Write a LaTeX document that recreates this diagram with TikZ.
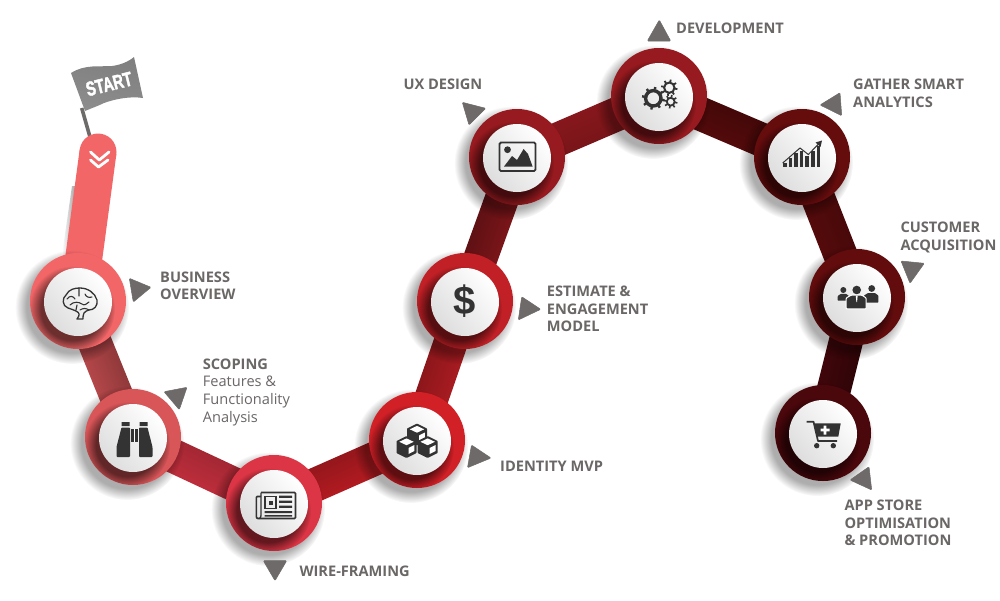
\documentclass[tikz,border=0pt]{standalone}
\usepackage{fontspec}
\usepackage{graphicx}
\setmainfont{Open Sans}
\newfontfamily\lib{Liberation Sans}
\newfontfamily\libfat[FakeBold=2.5]{Liberation Sans Bold}
\usetikzlibrary{calc,fadings}
\pgfdeclarelayer{links}
\pgfsetlayers{links,main}
\pgfdeclareradialshading{softoutS}{\pgfpointorigin}{color(0bp)=(pgftransparent!68);color(20bp)=(pgftransparent!68);color(25bp)=(pgftransparent!100);color(50bp)=(pgftransparent!100)}
\pgfdeclarefading{softout}{\pgfuseshading{softoutS}}
\pgfdeclareradialshading{softinS}{\pgfpointorigin}{color(0bp)=(pgftransparent!45);color(18bp)=(pgftransparent!45);color(25bp)=(pgftransparent!100);color(50bp)=(pgftransparent!100)}
\pgfdeclarefading{softin}{\pgfuseshading{softinS}}
\definecolor{ink}{HTML}{333333}
\definecolor{lab}{HTML}{6B6766}
\definecolor{tri}{HTML}{6D6A69}
\definecolor{cBrain}{HTML}{F26668}
\definecolor{cBino}{HTML}{D85558}
\definecolor{cNews}{HTML}{DC3545}
\definecolor{cCube}{HTML}{D22027}
\definecolor{cDoll}{HTML}{C02026}
\definecolor{cImag}{HTML}{961A1F}
\definecolor{cGear}{HTML}{961A1F}
\definecolor{cChrt}{HTML}{650C0D}
\definecolor{cPepl}{HTML}{620C0D}
\definecolor{cCart}{HTML}{4A070C}
\tikzset{
 x=1pt,y=-1pt,
 ringnode/.style={circle,minimum size=96pt,inner sep=0pt,outer sep=0pt},
 discnode/.style={circle,minimum size=68pt,inner sep=0pt,outer sep=0pt,left color=white,right color=black!13,shading angle=-50},
 boldlab/.style={anchor=base west,inner sep=0pt,align=left,text=lab,font=\fontsize{14.6}{17.5}\selectfont\bfseries},
 thinlab/.style={anchor=base west,inner sep=0pt,align=left,text=lab,font=\fontsize{14.6}{17.7}\selectfont},
 pointer/.style={fill=tri,draw=tri,line width=.5pt,rounded corners=1pt},
 inkline/.style={draw=ink,line width=1.3pt,line join=round,line cap=round},
}
\newcommand\hub[4]{%
 \fill[black,path fading=softout] (#2-6,#3+6) circle (57);
 \node[ringnode,fill=#4] (#1) at (#2,#3) {};
 \begin{scope}
 \clip (#2,#3) circle (48);
 \fill[black,path fading=softin] (#2-6,#3+8) circle (43);
 \end{scope}
 \node[discnode] (#1d) at (#2,#3+1) {};
}
\newcommand\link[5]{%
 \path[left color=#4,right color=#5,shading angle=#3]
  ($(#1)!17pt!90:(#2)$) -- ($(#2)!17pt!-90:(#1)$) -- ($(#2)!17pt!90:(#1)$) -- ($(#1)!17pt!-90:(#2)$) -- cycle;
}
\newcommand\gearicon[5]{%
 \begin{scope}[shift={(#1,#2)}]
 \draw[ink,line width=#3-#4] (0,0) circle ({(#3+#4)/2});
 \foreach \a in {0,45,...,315} \draw[ink,line width=#5] (\a+10:#3-.5) -- (\a+10:#3+2);
 \end{scope}
}
\newcommand\cubeicon[2]{%
 \begin{scope}[shift={(#1,#2)}]
 \fill[ink,rounded corners=.6pt] (0,-11) -- (10,-6) -- (10,6) -- (0,11) -- (-10,6) -- (-10,-6) -- cycle;
 \fill[white] (0,-8.6) -- (7.2,-5.2) -- (0,-1.8) -- (-7.2,-5.2) -- cycle;
 \fill[white] (2,1) -- (7.8,-2) -- (7.8,4) -- (2,7) -- cycle;
 \end{scope}
}
\begin{document}
\begin{tikzpicture}
\useasboundingbox (0,0) rectangle (1000,600);

% hubs
\hub{brain}{78}{301}{cBrain}
\hub{bino}{133}{437}{cBino}
\hub{news}{274}{503}{cNews}
\hub{cube}{417}{440}{cCube}
\hub{doll}{465}{301}{cDoll}
\hub{imag}{517}{157}{cImag}
\hub{gear}{659}{96}{cGear}
\hub{chrt}{802}{157}{cChrt}
\hub{pepl}{857}{297}{cPepl}
\hub{cart}{823}{433}{cCart}

% connectors, below the hubs
\begin{pgfonlayer}{links}
 \fill[white] (0,0) rectangle (1000,600);
 \coordinate (startcap) at (98,152);
 \draw[tri,line width=3.6pt] (81.7,108) -- (90,137);
 \path[left color=white,right color=black!35] (72,186) -- (75,186) -- (72,255) -- (62,255) -- cycle;
 \fill[cBrain] (startcap) circle (18.5);
 \fill[cBrain] ($(startcap)!18.5pt!90:(brain)$) -- ($(brain)!18.5pt!-90:(startcap)$) -- ($(brain)!18.5pt!90:(startcap)$) -- ($(startcap)!18.5pt!-90:(brain)$) -- cycle;
 \link{brain}{bino}{-68}{black!50!cBino}{cBino}
 \link{bino}{news}{-25}{black!40!cNews}{cNews}
 \link{news}{cube}{24}{black!45!cCube}{cCube}
 \link{cube}{doll}{71}{black!45!cCube}{cDoll}
 \link{doll}{imag}{70}{black!55!cImag}{cImag}
 \link{imag}{gear}{23}{cImag}{black!30!cImag}
 \link{gear}{chrt}{-23}{black!50!cChrt}{cChrt}
 \link{chrt}{pepl}{-69}{black!40!cPepl}{cPepl}
 \link{pepl}{cart}{-104}{black!50!cCart}{cCart}
\end{pgfonlayer}

% flag
\path[top color=black!50,middle color=black!64,bottom color=black!45,shading angle=-12]
 (71,73) .. controls (85,64) and (100,67) .. (112,66) .. controls (120,65) and (128,62) .. (134,57)
 -- (143,98) .. controls (130,96) and (115,99) .. (104,103) .. controls (98,106) and (92,108) .. (85,111) -- cycle;
\node[rotate=14,text=white,inner sep=0pt,font=\libfat\fontsize{20}{20}\selectfont] (startlab) at (109,84) {\scalebox{.72}[1]{START}};
\draw[white,line width=2.8pt,line cap=round,line join=round] (90.5,152) -- (99.3,160) -- (109,152);
\draw[white,line width=2.8pt,line cap=round,line join=round] (90.5,160) -- (98.5,167) -- (108,160);

% pointers
\path[pointer] (129.3,278.3) -- (151,287.3) -- (133.3,302) -- cycle;
\path[pointer] (164,391.7) -- (187,387.3) -- (179.3,409.7) -- cycle;
\path[pointer] (263.3,560.7) -- (286.7,560.7) -- (275,580.7) -- cycle;
\path[pointer] (471.5,445) -- (491,458) -- (467.5,467.7) -- cycle;
\path[pointer] (521.7,296.7) -- (540.7,309.3) -- (518.3,320) -- cycle;
\path[pointer] (462.3,102.3) -- (485.7,108.3) -- (469,125) -- cycle;
\path[pointer] (647.3,41) -- (670.7,41) -- (659.3,20) -- cycle;
\path[pointer] (820,105) -- (840,92.7) -- (841.7,115.7) -- cycle;
\path[pointer] (901,261) -- (924.3,263.3) -- (910,283.3) -- cycle;
\path[pointer] (850,480) -- (869,466.7) -- (871.7,490) -- cycle;

% labels (base anchor = last line)
\node[boldlab] (t1) at (160,299.5) {BUSINESS\\OVERVIEW};
\node[boldlab] (t2) at (202.7,369.3) {SCOPING};
\node[thinlab] (t2b) at (202.7,422) {Features \&\\Functionality\\Analysis};
\node[boldlab] (t3) at (299.3,576.7) {WIRE-FRAMING};
\node[boldlab] (t4) at (500,471) {IDENTITY MVP};
\node[boldlab] (t5) at (546.7,331.7) {ESTIMATE \&\\ENGAGEMENT\\MODEL};
\node[boldlab] (t6) at (403.3,89.7) {UX DESIGN};
\node[boldlab] (t7) at (676,33.3) {DEVELOPMENT};
\node[boldlab] (t8) at (853,107) {GATHER SMART\\ANALYTICS};
\node[boldlab] (t9) at (900.3,250) {CUSTOMER\\ACQUISITION};
\node[boldlab] (t10) at (844.3,545.7) {APP STORE\\OPTIMISATION\\\& PROMOTION};

% brain icon
\begin{scope}[shift={(78,302)}]
 \draw[inkline] (-10,6) .. controls (-16,4) and (-16,-4) .. (-12,-7) .. controls (-9,-13) and (-3,-14) .. (2,-14)
  .. controls (10,-14) and (17,-9) .. (19,-2) .. controls (20,4) and (16,8) .. (11,8)
  .. controls (8,8) and (8,10) .. (6,11) .. controls (5,13) and (5,15) .. (5,17) -- (-1,17) .. controls (2,13) and (2,11) .. (-2,9)
  .. controls (-4,8) and (-7,7) .. (-10,6);
 \draw[inkline,line width=1.1pt] (1,-14) -- (1,-6) (-11,-3) .. controls (-8,-7) and (-5,-6) .. (-3,-3)
  (7,-8) .. controls (8,-5) and (11,-4) .. (14,-5) (-8,3) .. controls (-4,-1) and (1,0) .. (4,2) .. controls (6,4) and (9,2) .. (11,0)
  (2,8) .. controls (5,6) and (8,6) .. (11,8) (-1,3) -- (-2,8);
\end{scope}

% binoculars icon
\begin{scope}[shift={(134.5,440)}]
 \fill[ink] (-13,-18) rectangle (-5,-14) (5,-18) rectangle (13,-14);
 \fill[ink,rounded corners=.8pt] (-13,-12.5) -- (-4.5,-12.5) -- (-4.5,17) -- (-18,17) -- (-18,7) -- cycle;
 \fill[ink,rounded corners=.8pt] (13,-12.5) -- (4.5,-12.5) -- (4.5,17) -- (18,17) -- (18,7) -- cycle;
 \fill[ink] (-3.2,-11) rectangle (3.2,2);
 \fill[white] (-.5,-11) rectangle (.5,2);
\end{scope}

% newspaper icon
\begin{scope}[shift={(275,505.5)}]
 \draw[ink,line width=1.6pt,rounded corners=1pt] (-14,-13) -- (20.5,-13) -- (20.5,13) -- (-16,13) .. controls (-18,13) and (-18.7,12) .. (-18.7,10) -- (-18.7,-9) -- (-14,-9);
 \draw[ink,line width=1.4pt] (-14,-13) -- (-14,10) .. controls (-14,12) and (-15,13) .. (-16,13);
 \draw[ink,line width=1.6pt] (-10,-9) rectangle (1,3);
 \fill[ink] (-6,-5) rectangle (-2,-1);
 \fill[ink] (4,-10) rectangle (17,-7.6) (4,-5) rectangle (17,-2.6) (4,0) rectangle (17,2.4) (-10.5,5.5) rectangle (17,7.7) (-10.5,9.5) rectangle (17,11.2);
\end{scope}

% cubes icon
\cubeicon{417}{434.5}
\cubeicon{406.5}{447}
\cubeicon{427.7}{447}

% dollar icon
\node[text=ink,inner sep=0pt,font=\lib\bfseries\fontsize{40}{40}\selectfont] (dollar) at (464.5,301) {\$};

% picture icon
\begin{scope}[shift={(517,157)}]
 \draw[ink,line width=1.9pt,rounded corners=1.4pt] (-17.5,-14.5) rectangle (18.5,14);
 \fill[ink] (-9.5,-7.3) circle (3.4);
 \fill[ink] (-13,9.5) -- (-5,-1) -- (0,3) -- (6.6,-8) -- (11,-3) -- (15.6,9.5) -- cycle;
\end{scope}

% gears icon
\gearicon{653.3}{98.3}{9.4}{6}{2.4}
\gearicon{669.3}{87.7}{6.2}{4.2}{1.8}
\gearicon{670.7}{101.7}{4.8}{3}{1.6}

% chart icon
\foreach \bx/\by in {785/162.5,790.5/157.5,796/152.5,801.5/150.5,807/156,813/151,818.5/146}
 \fill[ink] (\bx-1.6,\by) rectangle (\bx+1.6,166.7);
\draw[ink,line width=1pt] (782.7,163) -- (800,148) -- (808.3,154.5) -- (819,143.5);
\fill[ink] (822,140.5) -- (820.5,147) -- (815.5,142.5) -- cycle;

% people icon
\fill[ink] (843.3,290) circle (3);
\fill[ink,rounded corners=.6pt] (837.7,300.7) -- (837.7,296) -- (841,293.8) -- (846,293.8) -- (849,296) -- (849,300.7) -- cycle;
\fill[ink] (871.7,288.5) circle (3.4);
\fill[ink,rounded corners=.6pt] (864,302.7) -- (864,295.5) -- (868,293) -- (875,293) -- (878.3,295.5) -- (878.3,302.7) -- cycle;
\fill[ink] (856.7,290) circle (4.3);
\draw[white,line width=1pt,fill=ink,rounded corners=.8pt] (846.2,308.8) -- (846.2,298) -- (851,295.2) -- (862,295.2) -- (866.2,298) -- (866.2,308.8) -- cycle;
\fill[white] (855.7,295.5) -- (857.7,295.5) -- (857,302) -- (856.4,302) -- cycle;

% cart icon
\draw[ink,line width=1.7pt,line join=round] (806.5,421.7) -- (813.5,421.7) -- (818,441) -- (837,441);
\fill[ink] (814,423.3) -- (840.7,423.3) -- (838.3,436.7) -- (816.7,436.7) -- cycle;
\fill[white] (823.6,425.5) rectangle (826.4,434.5) (820.5,428.6) rectangle (829.5,431.4);
\fill[ink] (816.7,445.7) circle (2.7) (833.3,445.7) circle (2.7);
\end{tikzpicture}
\end{document}
